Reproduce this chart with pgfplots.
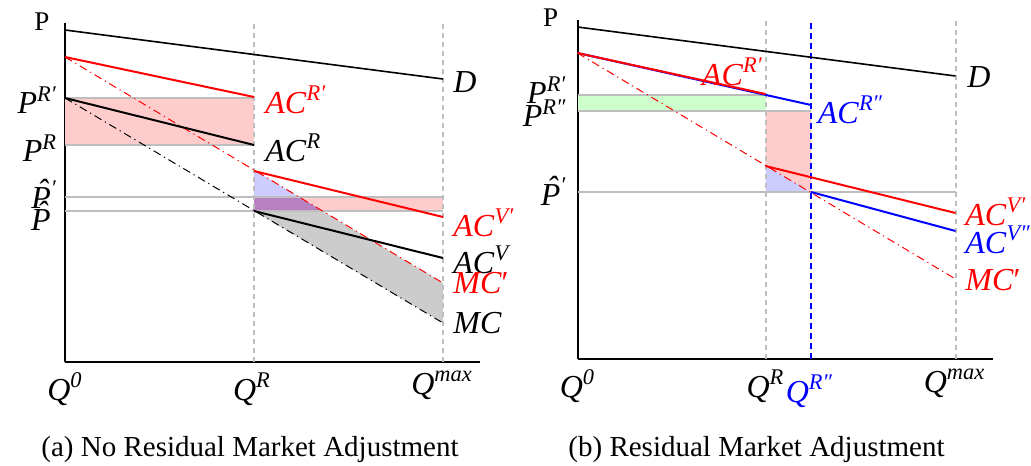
\documentclass[border=0pt]{standalone}
\usepackage{fontspec}
\setmainfont{Liberation Serif}
\usepackage{pgfplots}
\pgfplotsset{compat=1.18}
\newcommand{\sq}[2]{\textit{#1}\textsuperscript{\textit{#2}}}
\newcommand{\hatP}{\textit{P}\llap{\raisebox{0.2em}{\textit{ˆ}}\hspace{0.06em}}}
\definecolor{lpink}{RGB}{255,204,204}
\definecolor{lblue}{RGB}{204,204,255}
\definecolor{lgreen}{RGB}{204,255,204}
\definecolor{lpurp}{RGB}{183,128,190}
\definecolor{lgray}{RGB}{204,204,204}
\definecolor{gline}{RGB}{190,190,190}
\pgfplotsset{
  econ/.style={
    scale only axis, width=207.5pt, height=169.5pt,
    xmin=0, xmax=415, ymin=0, ymax=339,
    axis x line=bottom, axis y line=left,
    axis line style={-, line width=1pt},
    xtick=\empty, ytick=\empty, clip=false,
  },
  gl/.style={gline, line width=1pt, forget plot},
  vd/.style={gline, line width=1pt, dash pattern=on 2.5pt off 2pt},
  dd/.style={line width=0.5pt, dash pattern=on 4pt off 2pt on 0.6pt off 2pt},
}
\begin{document}
\begin{tikzpicture}[font=\fontsize{16}{19}\selectfont, inner sep=0pt]
\path[use as bounding box] (0,0) rectangle (515.5pt,-232.5pt);
% ---------------- left panel
\begin{axis}[econ, at={(32.5pt,-181pt)}, anchor=south west]
\addplot[fill=lpink, draw=none] coordinates {(0,217)(189,217)(189,264)(0,264)};
\addplot[fill=lpink, draw=none] coordinates {(189,151)(378,151)(378,165)(189,165)};
\addplot[fill=lgray, draw=none] coordinates {(189,151)(257.5,151)(378,79)(378,39)(189,151)};
\addplot[fill=lblue, draw=none] coordinates {(189,192)(189,151)(257.5,151)};
\addplot[fill=lpurp, draw=none] coordinates {(189,151)(189,165)(234,165)(257.5,151)};
\addplot[gl] coordinates {(0,264)(189,264)};
\addplot[gl] coordinates {(0,217)(189,217)};
\addplot[gl] coordinates {(0,165)(378,165)};
\addplot[gl] coordinates {(0,151)(378,151)};
\addplot[vd] coordinates {(189,0)(189,339)};
\addplot[vd] coordinates {(378,0)(378,339)};
\addplot[black, line width=0.8pt] coordinates {(0,332)(378,283)};
\addplot[red, line width=1pt] coordinates {(0,305)(189,265)};
\addplot[red, dd] coordinates {(0,305)(378,79)};
\addplot[red, line width=1pt] coordinates {(189,191)(378,145)};
\addplot[black, line width=1pt] coordinates {(0,264)(189,217)};
\addplot[black, dd] coordinates {(0,264)(378,39)};
\addplot[black, line width=1pt] coordinates {(189,151)(378,104)};
\node[font=\fontsize{13.5}{16}\selectfont] at (axis cs:-23,340) {P};
\node[anchor=east] at (axis cs:-7.5,262) {\sq{P}{R′}};
\node[anchor=east] at (axis cs:-7.5,214) {\sq{P}{R}};
\node[anchor=east] at (axis cs:-7.5,168) {\hatP\textsuperscript{\textit{′}}};
\node[anchor=east] at (axis cs:-14,146) {\hatP};
\node[anchor=west, text=red] at (axis cs:200,262) {\sq{AC}{R′}};
\node[anchor=west] at (axis cs:200,214) {\sq{AC}{R}};
\node[anchor=west] at (axis cs:388,280) {\textit{D}};
\node[anchor=west, text=red] at (axis cs:388,139) {\sq{AC}{V′}};
\node[anchor=west] at (axis cs:388,102) {\sq{AC}{V}};
\node[anchor=west, text=red] at (axis cs:388,79) {\textit{MC}′};
\node[anchor=west] at (axis cs:388,39) {\textit{MC}};
\node[anchor=base] at (axis cs:0,-38) {\sq{Q}{0}};
\node[anchor=base] at (axis cs:187,-38) {\sq{Q}{R}};
\node[anchor=base] at (axis cs:377,-32) {\sq{Q}{max}};
\node[font=\fontsize{14.5}{17}\selectfont] at (axis cs:185,-88) {(a) No Residual Market Adjustment};
\end{axis}
% ---------------- right panel
\begin{axis}[econ, at={(288.75pt,-179.5pt)}, anchor=south west]
\addplot[fill=lgreen, draw=none] coordinates {(0,248)(188,248)(188,264)(0,264)};
\addplot[fill=lpink, draw=none] coordinates {(188,248)(233.5,248)(233.5,167)(188,193.6)};
\addplot[fill=lblue, draw=none] coordinates {(188,193.6)(188,167)(233.5,167)};
\addplot[gl] coordinates {(0,264)(188,264)};
\addplot[gl] coordinates {(0,248)(233.5,248)};
\addplot[gl] coordinates {(0,167)(378,167)};
\addplot[vd] coordinates {(188,0)(188,339)};
\addplot[vd] coordinates {(378,0)(378,339)};
\addplot[blue, line width=1pt, dash pattern=on 3pt off 2pt] coordinates {(233.5,0)(233.5,339)};
\addplot[black, line width=0.8pt] coordinates {(0,332)(378,283)};
\addplot[blue, line width=1pt] coordinates {(0,306)(233.5,254)};
\addplot[red, line width=1pt] coordinates {(0,306)(188,265)};
\addplot[red, dd] coordinates {(0,306)(378,80)};
\addplot[red, line width=1pt] coordinates {(188,193)(378,146)};
\addplot[blue, line width=1pt] coordinates {(233.5,167)(378,128)};
\node[font=\fontsize{13.5}{16}\selectfont] at (axis cs:-27,341) {P};
\node[anchor=east] at (axis cs:-10.5,269) {\sq{P}{R′}};
\node[anchor=east] at (axis cs:-10.5,246) {\sq{P}{R″}};
\node[anchor=east] at (axis cs:-10.5,168) {\hatP\textsuperscript{\textit{′}}};
\node[text=red] at (axis cs:155,287) {\sq{AC}{R′}};
\node[text=blue] at (axis cs:273,249) {\sq{AC}{R″}};
\node[anchor=west] at (axis cs:389.5,282) {\textit{D}};
\node[anchor=west, text=red] at (axis cs:387.5,147) {\sq{AC}{V′}};
\node[anchor=west, text=blue] at (axis cs:387.5,119) {\sq{AC}{V″}};
\node[anchor=west, text=red] at (axis cs:387.5,79) {\textit{MC}′};
\node[anchor=base] at (axis cs:0,-38) {\sq{Q}{0}};
\node[anchor=base] at (axis cs:188,-38) {\sq{Q}{R}};
\node[anchor=base, text=blue] at (axis cs:232,-43) {\sq{Q}{R″}};
\node[anchor=base] at (axis cs:377,-33) {\sq{Q}{max}};
\node[font=\fontsize{14.5}{17}\selectfont] at (axis cs:179,-91) {(b) Residual Market Adjustment};
\end{axis}
\end{tikzpicture}
\end{document}
